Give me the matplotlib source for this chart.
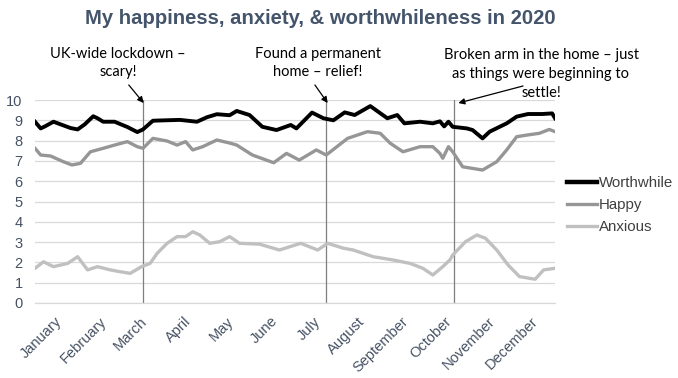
import matplotlib
matplotlib.use("Agg")
import matplotlib.pyplot as plt

# month names and lengths (2020, leap year)
months = ["January", "February", "March", "April", "May", "June", "July",
          "August", "September", "October", "November", "December"]
month_days = [31, 29, 31, 30, 31, 30, 31, 31, 30, 31, 30, 31]

# day of year / score
worth_day = [0, 4, 7, 13, 18, 25, 30, 35, 41, 44, 48, 56, 65, 72, 76, 83, 92, 102,
             114, 121, 128, 137, 142, 151, 160, 170, 180, 184, 195, 203, 210, 218,
             225, 236, 248, 255, 260, 271, 280, 285, 288, 291, 294, 304, 308, 315,
             320, 332, 339, 347, 357, 364, 366]
worth_val = [8.93, 8.6, 8.7, 8.93, 8.8, 8.62, 8.55, 8.8, 9.2, 9.1, 8.93, 8.93, 8.67,
             8.42, 8.55, 8.98, 9.0, 9.02, 8.93, 9.15, 9.3, 9.25, 9.46, 9.26, 8.68,
             8.52, 8.77, 8.6, 9.38, 9.1, 9.0, 9.39, 9.26, 9.7, 9.1, 9.26, 8.85,
             8.93, 8.85, 8.95, 8.7, 8.93, 8.68, 8.6, 8.52, 8.11, 8.44, 8.85, 9.18,
             9.31, 9.31, 9.34, 9.1]

happy_day = [0, 4, 11, 20, 26, 32, 39, 48, 56, 65, 72, 76, 83, 93, 100, 106, 111,
             118, 128, 137, 142, 153, 168, 177, 186, 198, 205, 220, 234, 243, 250,
             259, 271, 280, 285, 287, 291, 294, 301, 315, 325, 332, 339, 346, 355,
             362, 366]
happy_val = [7.62, 7.29, 7.24, 6.96, 6.8, 6.88, 7.45, 7.62, 7.78, 7.95, 7.7, 7.62,
             8.11, 7.98, 7.78, 7.95, 7.54, 7.7, 8.03, 7.88, 7.78, 7.29, 6.91, 7.37,
             7.04, 7.54, 7.29, 8.11, 8.44, 8.36, 7.87, 7.45, 7.7, 7.7, 7.37, 7.13,
             7.7, 7.45, 6.71, 6.55, 6.96, 7.54, 8.19, 8.27, 8.36, 8.55, 8.44]

anx_day = [0, 6, 13, 23, 30, 37, 44, 53, 60, 67, 75, 81, 86, 93, 100, 106, 111, 116,
           123, 130, 137, 144, 158, 172, 187, 199, 206, 217, 224, 238, 252, 264,
           273, 280, 287, 292, 294, 303, 311, 317, 325, 333, 341, 352, 358, 363, 366]
anx_val = [1.71, 2.03, 1.79, 1.95, 2.28, 1.63, 1.79, 1.63, 1.54, 1.46, 1.79, 1.95,
           2.45, 2.94, 3.27, 3.27, 3.51, 3.35, 2.94, 3.02, 3.27, 2.94, 2.9, 2.61,
           2.94, 2.61, 2.94, 2.7, 2.61, 2.28, 2.12, 1.95, 1.71, 1.38, 1.79, 2.12,
           2.36, 3.02, 3.35, 3.19, 2.61, 1.87, 1.3, 1.17, 1.63, 1.68, 1.71]

# events: day of year, note
event_day = [76, 205, 295]
event_text = ["UK-wide lockdown \u2013\nscary!",
              "Found a permanent\nhome \u2013 relief!",
              "Broken arm in the home \u2013 just\nas things were beginning to\nsettle!"]

W, H = 678, 378
fig = plt.figure(figsize=(W / 100, H / 100), dpi=100)
ax = fig.add_axes([35 / W, 1 - 303 / H, 520 / W, 203 / H])

tick_col = "#465263"

# gridlines
ax.set_ylim(0, 10)
ax.set_xlim(0, 366)
ax.set_yticks(range(0, 11))
ax.grid(axis="y", color="#d9d9d9", lw=0.9)
ax.set_axisbelow(True)
for s in ["top", "right", "left"]:
    ax.spines[s].set_visible(False)
ax.spines["bottom"].set_color("#d9d9d9")
ax.spines["bottom"].set_linewidth(0.9)

# event lines
for d in event_day:
    ax.axvline(d, color="#7f7f7f", lw=0.9, zorder=1)

ax.plot(anx_day, anx_val, color="#c0c0c0", lw=2.4, label="Anxious", zorder=2)
ax.plot(happy_day, happy_val, color="#969696", lw=2.4, label="Happy", zorder=3)
ax.plot(worth_day, worth_val, color="black", lw=2.8, label="Worthwhile", zorder=4)

# month labels
starts = [sum(month_days[:i]) for i in range(12)]
ax.set_xticks([s + 14 for s in starts])
ax.set_xticklabels(months, rotation=45, ha="right", rotation_mode="anchor",
                   fontsize=10.5, color=tick_col, family="Liberation Sans")
ax.tick_params(axis="x", length=0, pad=8)
ax.tick_params(axis="y", length=0, pad=9, labelsize=10.5, labelcolor=tick_col)
for t in ax.get_yticklabels():
    t.set_family("Liberation Sans")

# legend
h, l = ax.get_legend_handles_labels()
leg = fig.legend(h[::-1], l[::-1], loc="center left",
                 bbox_to_anchor=(567 / W, 1 - 205 / H), frameon=False,
                 handlelength=2.0, handletextpad=0.15, labelspacing=0.55,
                 borderpad=0, borderaxespad=0,
                 prop={"family": "Liberation Sans", "size": 10.8})
for t in leg.get_texts():
    t.set_color("#404040")
leg.get_lines()[0].set_linewidth(3.2)

# title
fig.text(320 / W, 1 - 19 / H, "My happiness, anxiety, & worthwhileness in 2020",
         ha="center", va="center", fontsize=14.6, fontweight="bold",
         color="#44546a", family="Liberation Sans")

# notes and arrows
note_pos = [(118, 63), (318, 63), (541, 74)]
for (px, py), txt in zip(note_pos, event_text):
    fig.text(px / W, 1 - py / H, txt, ha="center", va="center", fontsize=10.5,
             family="Lato", linespacing=1.45, color="black")

arrows = [((76.5, 9.85), (66, 10.74)),
          ((206, 9.85), (197, 10.74)),
          ((298, 9.85), (343.5, 10.69))]
for head, tail in arrows:
    ax.annotate("", xy=head, xytext=tail, annotation_clip=False,
                arrowprops=dict(arrowstyle="-|>", color="black", lw=0.9,
                                mutation_scale=9, shrinkA=0, shrinkB=0))

fig.savefig("out.png", dpi=100)
